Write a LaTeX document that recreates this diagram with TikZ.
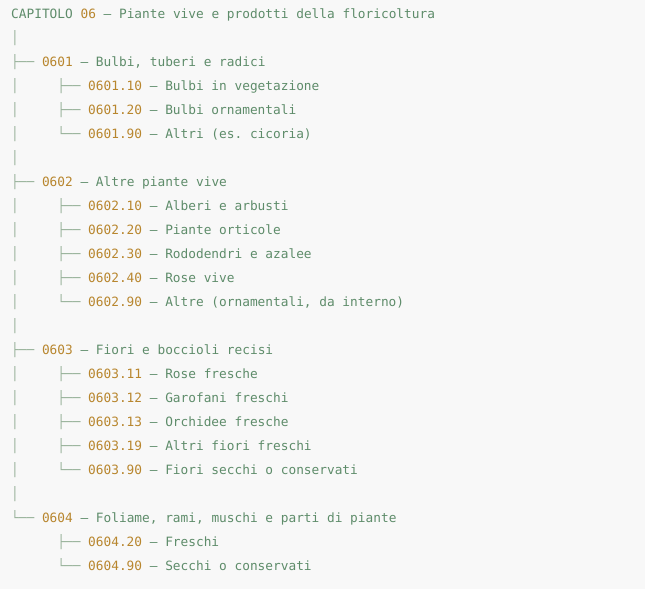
\documentclass[tikz,border=0pt]{standalone}
\usepackage{fontspec}
\setmonofont{DejaVu Sans Mono}
\definecolor{bgcol}{HTML}{F8F8F8}
\definecolor{txtcol}{HTML}{5E8C6A}
\definecolor{numcol}{HTML}{B8862E}
\definecolor{treecol}{HTML}{98B29A}
\newcommand{\hsnum}[1]{\textcolor{numcol}{#1}}
\begin{document}
\begin{tikzpicture}[x=1pt,y=-1pt,
                    tree/.style={anchor=base west,inner sep=0pt,text=treecol,font=\ttfamily\fontsize{12.8}{15}\selectfont},
                    code/.style={anchor=base west,inner sep=0pt,text=txtcol,font=\ttfamily\fontsize{12.8}{15}\selectfont}]
                    \fill [bgcol] (0,0) rectangle (645,589);
                    \useasboundingbox (0,0) rectangle (645,589);
                    \node [code] (cap) at (11,18) {CAPITOLO \hsnum{06} — Piante vive e prodotti della floricoltura};
                    \node [tree] (b1) at (11,42) {│};
                    % 0601
                    \node [tree] (k0601) at (11,66) {├──};
                    \node [code] (n0601) at (41.8,66) {\hsnum{0601} — Bulbi, tuberi e radici};
                    \node [tree] (b3) at (11,90) {│};
                    \node [tree] (k060110) at (57.2,90) {├──};
                    \node [code] (n060110) at (88,90) {\hsnum{0601.10} — Bulbi in vegetazione};
                    \node [tree] (b4) at (11,114) {│};
                    \node [tree] (k060120) at (57.2,114) {├──};
                    \node [code] (n060120) at (88,114) {\hsnum{0601.20} — Bulbi ornamentali};
                    \node [tree] (b5) at (11,138) {│};
                    \node [tree] (k060190) at (57.2,138) {└──};
                    \node [code] (n060190) at (88,138) {\hsnum{0601.90} — Altri (es. cicoria)};
                    \node [tree] (b6) at (11,162) {│};
                    % 0602
                    \node [tree] (k0602) at (11,186) {├──};
                    \node [code] (n0602) at (41.8,186) {\hsnum{0602} — Altre piante vive};
                    \node [tree] (b8) at (11,210) {│};
                    \node [tree] (k060210) at (57.2,210) {├──};
                    \node [code] (n060210) at (88,210) {\hsnum{0602.10} — Alberi e arbusti};
                    \node [tree] (b9) at (11,234) {│};
                    \node [tree] (k060220) at (57.2,234) {├──};
                    \node [code] (n060220) at (88,234) {\hsnum{0602.20} — Piante orticole};
                    \node [tree] (b10) at (11,258) {│};
                    \node [tree] (k060230) at (57.2,258) {├──};
                    \node [code] (n060230) at (88,258) {\hsnum{0602.30} — Rododendri e azalee};
                    \node [tree] (b11) at (11,282) {│};
                    \node [tree] (k060240) at (57.2,282) {├──};
                    \node [code] (n060240) at (88,282) {\hsnum{0602.40} — Rose vive};
                    \node [tree] (b12) at (11,306) {│};
                    \node [tree] (k060290) at (57.2,306) {└──};
                    \node [code] (n060290) at (88,306) {\hsnum{0602.90} — Altre (ornamentali, da interno)};
                    \node [tree] (b13) at (11,330) {│};
                    % 0603
                    \node [tree] (k0603) at (11,354) {├──};
                    \node [code] (n0603) at (41.8,354) {\hsnum{0603} — Fiori e boccioli recisi};
                    \node [tree] (b15) at (11,378) {│};
                    \node [tree] (k060311) at (57.2,378) {├──};
                    \node [code] (n060311) at (88,378) {\hsnum{0603.11} — Rose fresche};
                    \node [tree] (b16) at (11,402) {│};
                    \node [tree] (k060312) at (57.2,402) {├──};
                    \node [code] (n060312) at (88,402) {\hsnum{0603.12} — Garofani freschi};
                    \node [tree] (b17) at (11,426) {│};
                    \node [tree] (k060313) at (57.2,426) {├──};
                    \node [code] (n060313) at (88,426) {\hsnum{0603.13} — Orchidee fresche};
                    \node [tree] (b18) at (11,450) {│};
                    \node [tree] (k060319) at (57.2,450) {├──};
                    \node [code] (n060319) at (88,450) {\hsnum{0603.19} — Altri fiori freschi};
                    \node [tree] (b19) at (11,474) {│};
                    \node [tree] (k060390) at (57.2,474) {└──};
                    \node [code] (n060390) at (88,474) {\hsnum{0603.90} — Fiori secchi o conservati};
                    \node [tree] (b20) at (11,498) {│};
                    % 0604
                    \node [tree] (k0604) at (11,522) {└──};
                    \node [code] (n0604) at (41.8,522) {\hsnum{0604} — Foliame, rami, muschi e parti di piante};
                    \node [tree] (k060420) at (57.2,546) {├──};
                    \node [code] (n060420) at (88,546) {\hsnum{0604.20} — Freschi};
                    \node [tree] (k060490) at (57.2,570) {└──};
                    \node [code] (n060490) at (88,570) {\hsnum{0604.90} — Secchi o conservati};
                \end{tikzpicture}
\end{document}
